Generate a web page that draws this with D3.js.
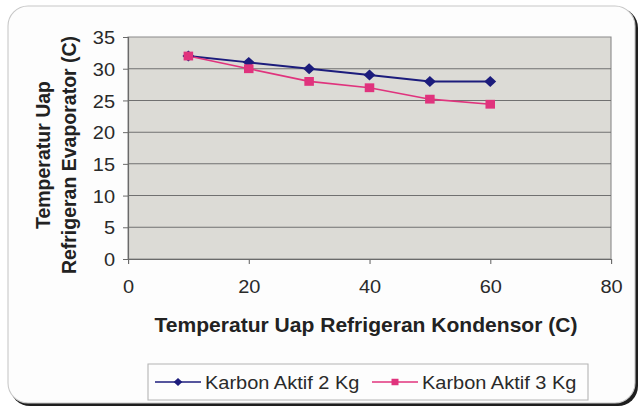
<!DOCTYPE html>
<html>
<head>
<meta charset="utf-8">
<script src="https://cdn.jsdelivr.net/npm/d3@7/dist/d3.min.js"></script>
<style>
  body { margin: 0; background: #fff; }
  svg { display: block; font-family: "Liberation Sans", Arial, sans-serif; }
</style>
</head>
<body>
<svg id="chart" width="640" height="408"></svg>
<script>
// data
var suhuKondensor = [10, 20, 30, 40, 50, 60];
var karbon2Kg = [32, 31, 30, 29, 28, 28];
var karbon3Kg = [32, 30, 28, 27, 25.2, 24.4];
var xTicks = [0, 20, 40, 60, 80];
var yTicks = [0, 5, 10, 15, 20, 25, 30, 35];
var seriesNames = ['Karbon Aktif 2 Kg', 'Karbon Aktif 3 Kg'];

// the scan is a bit wider than tall, so stretch everything horizontally
var SX = 1.08;

var svg = d3.select('#chart');
var root = svg.append('g').attr('transform', 'scale(' + SX + ',1)');

var plot = { l: 128 / SX, r: 611 / SX, t: 37, b: 259 };

// frame with dark shadow on the right / bottom
root.append('rect')
  .attr('x', 10 / SX).attr('y', 8)
  .attr('width', 628 / SX).attr('height', 398)
  .attr('rx', 20 / SX).attr('ry', 20)
  .attr('fill', '#1e1e1e');
root.append('rect')
  .attr('x', 8 / SX).attr('y', 6)
  .attr('width', 627 / SX).attr('height', 397)
  .attr('rx', 20 / SX).attr('ry', 20)
  .attr('fill', '#fdfdfd')
  .attr('stroke', '#c8c8c8')
  .attr('stroke-width', 1);

var x = d3.scaleLinear().domain([0, 80]).range([plot.l, plot.r]);
var y = d3.scaleLinear().domain([0, 35]).range([plot.b, plot.t]);

root.append('rect')
  .attr('x', plot.l).attr('y', plot.t)
  .attr('width', plot.r - plot.l).attr('height', plot.b - plot.t)
  .attr('fill', '#dcdbd6')
  .attr('stroke', '#8a8a8a');

// gridlines
root.append('g').selectAll('line')
  .data(yTicks.slice(1, -1))
  .enter().append('line')
  .attr('x1', plot.l).attr('x2', plot.r)
  .attr('y1', d => y(d)).attr('y2', d => y(d))
  .attr('stroke', '#707070')
  .attr('stroke-width', 1);

var yAxisG = root.append('g')
  .attr('transform', 'translate(' + plot.l + ',0)')
  .call(d3.axisLeft(y).tickValues(yTicks).tickSize(5 / SX).tickPadding(8 / SX));
var xAxisG = root.append('g')
  .attr('transform', 'translate(0,' + plot.b + ')')
  .call(d3.axisBottom(x).tickValues(xTicks).tickSize(5).tickPadding(16));

[yAxisG, xAxisG].forEach(function (g) {
  g.select('.domain').attr('stroke', '#6a6a6a');
  g.selectAll('.tick line').attr('stroke', '#6a6a6a');
  g.selectAll('.tick text')
    .attr('fill', '#2a2a2a')
    .style('font-size', '18.5px')
    .style('font-family', '"Liberation Sans", Arial, sans-serif');
});
yAxisG.selectAll('.tick text').attr('dy', '0.36em');

// axis titles
root.append('text')
  .attr('x', 366 / SX).attr('y', 332)
  .attr('text-anchor', 'middle')
  .style('font-size', '19.5px').style('font-weight', 'bold')
  .attr('fill', '#222')
  .text('Temperatur Uap Refrigeran Kondensor (C)');

var yTitle = root.append('text')
  .attr('transform', 'translate(' + (50 / SX) + ',155) rotate(-90)')
  .attr('text-anchor', 'middle')
  .style('font-size', '19.5px').style('font-weight', 'bold')
  .attr('fill', '#222');
yTitle.append('tspan').attr('x', 0).attr('y', 0).text('Temperatur Uap');
yTitle.append('tspan').attr('x', 0).attr('y', 24).text('Refrigeran Evaporator (C)');

// series
var colors = ['#1c1c7c', '#e0337d'];
var allSeries = [karbon2Kg, karbon3Kg];

// diamond = square turned 45 degrees, square for the second series
function marker(sel, s, size) {
  sel.append('path')
    .attr('d', d3.symbol().type(d3.symbolSquare).size(size))
    .attr('transform', s === 0 ? 'rotate(45)' : null)
    .attr('fill', colors[s]);
}

var line = d3.line()
  .x((d, i) => x(suhuKondensor[i]))
  .y(d => y(d));

allSeries.forEach(function (vals, s) {
  root.append('path')
    .datum(vals)
    .attr('d', line)
    .attr('fill', 'none')
    .attr('stroke', colors[s])
    .attr('stroke-width', s === 0 ? 2 : 1.6);
});
allSeries.forEach(function (vals, s) {
  root.append('g').selectAll('g')
    .data(vals)
    .enter().append('g')
    .attr('transform', (d, i) => 'translate(' + x(suhuKondensor[i]) + ',' + y(d) + ')')
    .each(function () { marker(d3.select(this), s, s === 0 ? 60 : 78); });
});

// legend
root.append('rect')
  .attr('x', 148 / SX).attr('y', 364)
  .attr('width', 440 / SX).attr('height', 36)
  .attr('fill', 'none')
  .attr('stroke', '#b4b4b4');

var legendX = [155, 372];
seriesNames.forEach(function (name, s) {
  var lg = root.append('g').attr('transform', 'translate(' + (legendX[s] / SX) + ',382)');
  lg.append('line')
    .attr('x1', 0).attr('x2', 46 / SX)
    .attr('stroke', colors[s]).attr('stroke-width', 1.6);
  var mk = lg.append('g').attr('transform', 'translate(' + (23 / SX) + ',0)');
  marker(mk, s, s === 0 ? 32 : 42);
  lg.append('text')
    .attr('x', 50 / SX).attr('y', 0).attr('dy', '0.36em')
    .style('font-size', '18.5px')
    .attr('fill', '#2a2a2a')
    .text(name);
});
</script>
</body>
</html>
